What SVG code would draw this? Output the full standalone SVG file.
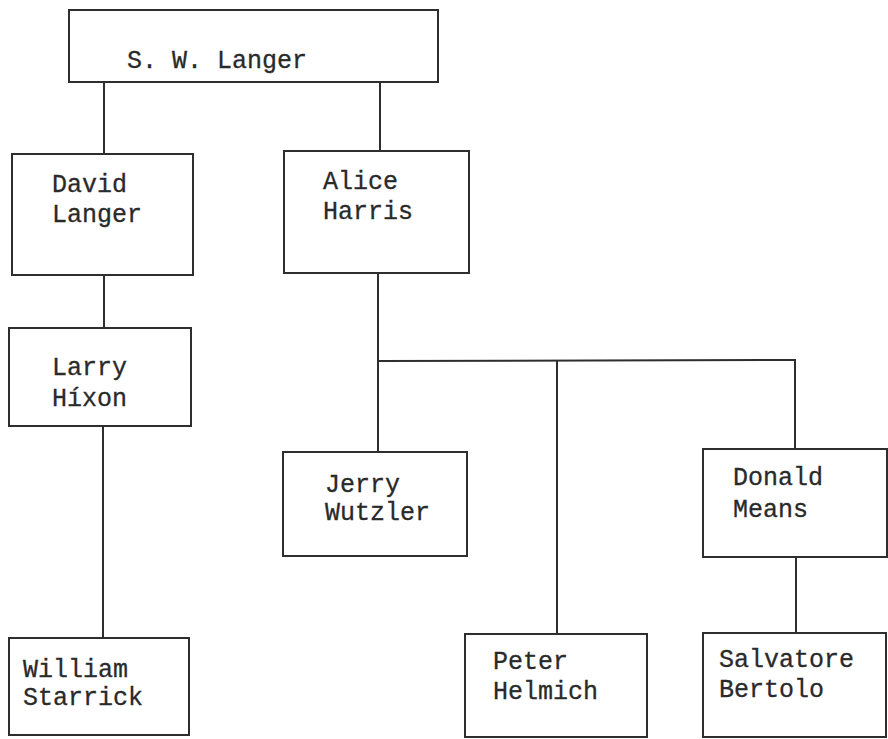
<svg xmlns="http://www.w3.org/2000/svg" width="888" height="739" viewBox="0 0 888 739">
<style>
.box{fill:#fff;stroke:#2e2e2e;stroke-width:2}
.lbl{font-family:"Liberation Mono","Courier New",monospace;font-size:25px;fill:#2a2a2a;stroke:#2a2a2a;stroke-width:0.3}
.con{stroke:#2e2e2e;stroke-width:2;fill:none}
</style>
<rect width="888" height="739" fill="#fff"/>
<g id="connectors">
<line class="con" x1="104" y1="82" x2="104" y2="154"/>
<line class="con" x1="380" y1="82" x2="380" y2="151"/>
<line class="con" x1="104" y1="275" x2="104" y2="328"/>
<line class="con" x1="103" y1="426" x2="103" y2="638"/>
<line class="con" x1="378" y1="273" x2="378" y2="452"/>
<polyline class="con" points="378,361 795,360 795,449"/>
<line class="con" x1="557" y1="361" x2="557" y2="634"/>
<line class="con" x1="796" y1="557" x2="796" y2="633"/>
</g>
<g id="sw-langer"><rect class="box" x="69" y="10" width="369" height="72"/><text class="lbl" x="127" y="68">S. W. Langer</text></g>
<g id="david-langer"><rect class="box" x="12" y="154" width="181" height="121"/><text class="lbl" x="52" y="192">David</text><text class="lbl" x="52" y="222">Langer</text></g>
<g id="alice-harris"><rect class="box" x="284" y="151" width="185" height="122"/><text class="lbl" x="323" y="189">Alice</text><text class="lbl" x="323" y="219">Harris</text></g>
<g id="larry-hixon"><rect class="box" x="9" y="328" width="182" height="98"/><text class="lbl" x="52" y="375">Larry</text><text class="lbl" x="52" y="406">Híxon</text></g>
<g id="jerry-wutzler"><rect class="box" x="283" y="452" width="184" height="104"/><text class="lbl" x="325" y="492">Jerry</text><text class="lbl" x="325" y="520">Wutzler</text></g>
<g id="donald-means"><rect class="box" x="703" y="449" width="184" height="108"/><text class="lbl" x="733" y="485">Donald</text><text class="lbl" x="733" y="517">Means</text></g>
<g id="william-starrick"><rect class="box" x="9" y="638" width="180" height="97"/><text class="lbl" x="23" y="677">William</text><text class="lbl" x="23" y="705">Starrick</text></g>
<g id="peter-helmich"><rect class="box" x="465" y="634" width="182" height="103"/><text class="lbl" x="493" y="669">Peter</text><text class="lbl" x="493" y="699">Helmich</text></g>
<g id="salvatore-bertolo"><rect class="box" x="703" y="633" width="183" height="104"/><text class="lbl" x="719" y="667">Salvatore</text><text class="lbl" x="719" y="697">Bertolo</text></g>
</svg>
